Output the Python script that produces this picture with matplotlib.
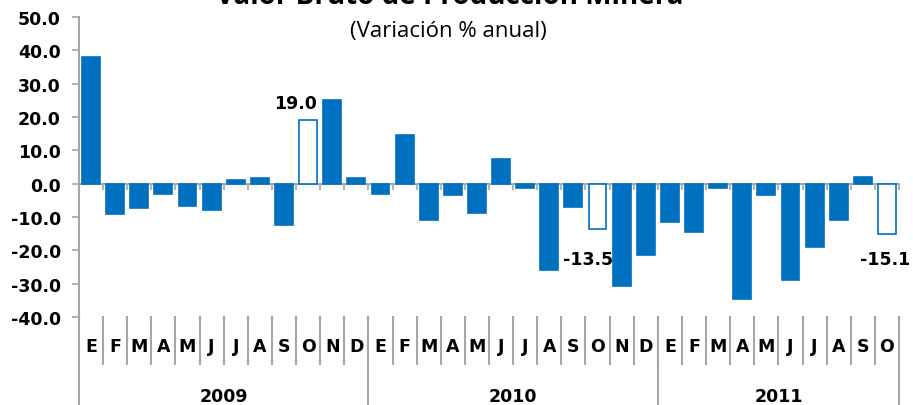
import matplotlib.pyplot as plt
import numpy as np

months = ["E", "F", "M", "A", "M", "J", "J", "A", "S", "O", "N", "D",
          "E", "F", "M", "A", "M", "J", "J", "A", "S", "O", "N", "D",
          "E", "F", "M", "A", "M", "J", "J", "A", "S", "O"]
years = ["2009", "2010", "2011"]
months_per_year = [12, 12, 10]
values = [38.0, -9.2, -7.2, -3.1, -6.7, -7.8, 1.1, 1.6, -12.3, 19.0, 25.1, 1.6,
          -3.1, 14.6, -10.8, -3.4, -8.7, 7.3, -1.4, -25.9, -7.1, -13.5, -30.6, -21.3,
          -11.4, -14.5, -1.4, -34.7, -3.5, -28.9, -19.1, -10.8, 2.1, -15.1]
hollow = [9, 21, 33]  # October bars, drawn as outlines with their value shown

blue = "#0070C0"
grey = "#A6A6A6"
tick_font = dict(family="DejaVu Sans", fontweight="bold", fontsize=12.5)

fig = plt.figure(figsize=(9.13, 4.06), dpi=100)
ax = fig.add_axes([79 / 913, 1 - 318 / 406, 820 / 913, 300 / 406])

x = np.arange(len(values))
face = ["white" if i in hollow else blue for i in x]
ax.bar(x, values, width=0.74, color=face, edgecolor=blue, linewidth=1.2, zorder=2)

ax.set_xlim(-0.5, len(values) - 0.5)
ax.set_ylim(-40, 50)
ax.set_yticks(np.arange(-40, 51, 10))
ax.set_yticklabels([f"{v:.1f}" for v in np.arange(-40, 51, 10)], **tick_font)
ax.tick_params(axis="y", length=5, color=grey, width=1.2, pad=8)

for s in ["top", "right"]:
    ax.spines[s].set_visible(False)
ax.spines["left"].set_color(grey)
ax.spines["left"].set_linewidth(1.5)
ax.spines["bottom"].set_position(("data", 0))
ax.spines["bottom"].set_color(grey)
ax.spines["bottom"].set_linewidth(1.5)
ax.spines["bottom"].set_zorder(1)
ax.set_xticks(np.arange(-0.5, len(values), 1.0))
ax.set_xticklabels([])
ax.tick_params(axis="x", length=4, color=grey, width=1.2)

# category labels below the plot
trans = ax.get_xaxis_transform()
for i, m in enumerate(months):
    ax.text(i, -0.097, m, transform=trans, ha="center", va="center", **tick_font)
for b in np.arange(0.5, len(values) - 0.5, 1.0):
    ax.plot([b, b], [0, -0.157], transform=trans, color=grey, lw=1.5, clip_on=False)

start = 0
bounds = [-0.5]
for y, n in zip(years, months_per_year):
    ax.text(start + n / 2 - 0.5, -0.262, y, transform=trans, ha="center", va="center",
            **tick_font)
    start += n
    bounds.append(start - 0.5)
for b in bounds:
    ax.plot([b, b], [0, -0.3], transform=trans, color=grey, lw=1.5, clip_on=False)

# value labels on the outlined bars
label_offsets = {9: (-9, 6), 21: (-7, -22), 33: (-1, -18)}
for i in hollow:
    dx, dy = label_offsets[i]
    ax.annotate(f"{values[i]:.1f}", xy=(i, values[i]), xytext=(dx, dy),
                textcoords="offset points", ha="center",
                va="bottom" if values[i] > 0 else "center", **tick_font)

fig.text(450 / 913, 1 - 4 / 406, "Valor Bruto de Producción Minera",
         ha="center", va="baseline", fontsize=20, fontweight="bold", family="Open Sans")
fig.text(448 / 913, 1 - 31 / 406, "(Variación % anual)",
         ha="center", va="center", fontsize=16, family="Open Sans")

fig.savefig("out.png", dpi=100)
